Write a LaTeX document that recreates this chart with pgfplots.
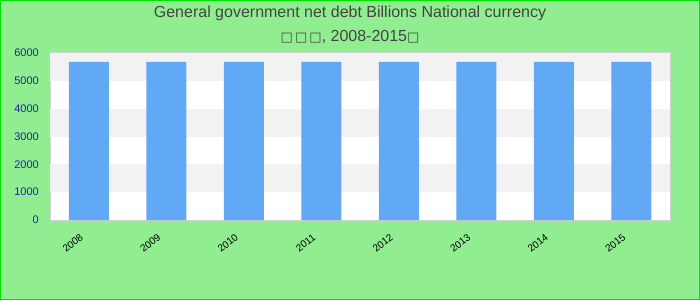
\documentclass[border=0pt]{standalone}
\usepackage{pgfplots}
\pgfplotsset{compat=1.18}
\usepackage{fontspec}
\setmainfont{Liberation Sans}
\newfontfamily\dejavu{DejaVu Sans}
\definecolor{bggreen}{HTML}{90EE90}
\definecolor{edgegreen}{HTML}{00E000}
\definecolor{barblue}{HTML}{61A8F5}
\definecolor{band}{HTML}{F2F2F2}
\definecolor{ticknavy}{HTML}{2020B0}
\definecolor{titlegray}{HTML}{444444}
\begin{document}
\begin{tikzpicture}[x=1bp,y=1bp]
\fill[bggreen] (0,0) rectangle (700,300);
\draw[edgegreen,line width=1bp] (0.5,0.5) rectangle (699.5,299.5);
\node[font=\fontsize{16bp}{18bp}\selectfont,text=titlegray] at (350,287) {General government net debt Billions National currency};
\node[font=\fontsize{16bp}{18bp}\selectfont,text=titlegray] at (350,263) {{\dejavu\fontsize{13bp}{16bp}\selectfont □\,□\,□}, 2008-2015{\dejavu\fontsize{13bp}{16bp}\selectfont □}};
\begin{axis}[
  at={(50bp,80bp)}, anchor=south west,
  scale only axis, width=620bp, height=167bp,
  xmin=-0.5, xmax=7.5, ymin=0, ymax=6000,
  axis background/.style={fill=white},
  axis line style={draw=black!18, line width=1bp},
  xtick=data,
  xticklabels={2008,2009,2010,2011,2012,2013,2014,2015},
  xticklabel style={xshift=-7bp, yshift=-16bp, rotate=38, anchor=east, font=\fontsize{10bp}{10bp}\selectfont, text=black, inner sep=0pt},
  ytick={0,1000,2000,3000,4000,5000,6000},
  yticklabels={0,1000,2000,3000,4000,5000,6000},
  yticklabel style={font=\fontsize{11bp}{12bp}\selectfont\color{ticknavy}, inner sep=1bp, xshift=-10bp, text=ticknavy},
  scaled y ticks=false,
  major tick length=0pt,
  ybar, bar width=40bp,
  clip=false,
]
\fill[band] (axis cs:-0.5,1000) rectangle (axis cs:7.5,2000);
\fill[band] (axis cs:-0.5,3000) rectangle (axis cs:7.5,4000);
\fill[band] (axis cs:-0.5,5000) rectangle (axis cs:7.5,6000);
\addplot[fill=barblue, draw=none] coordinates {(0,5680) (1,5680) (2,5680) (3,5680) (4,5680) (5,5680) (6,5680) (7,5680)};
\end{axis}
\end{tikzpicture}
\end{document}
